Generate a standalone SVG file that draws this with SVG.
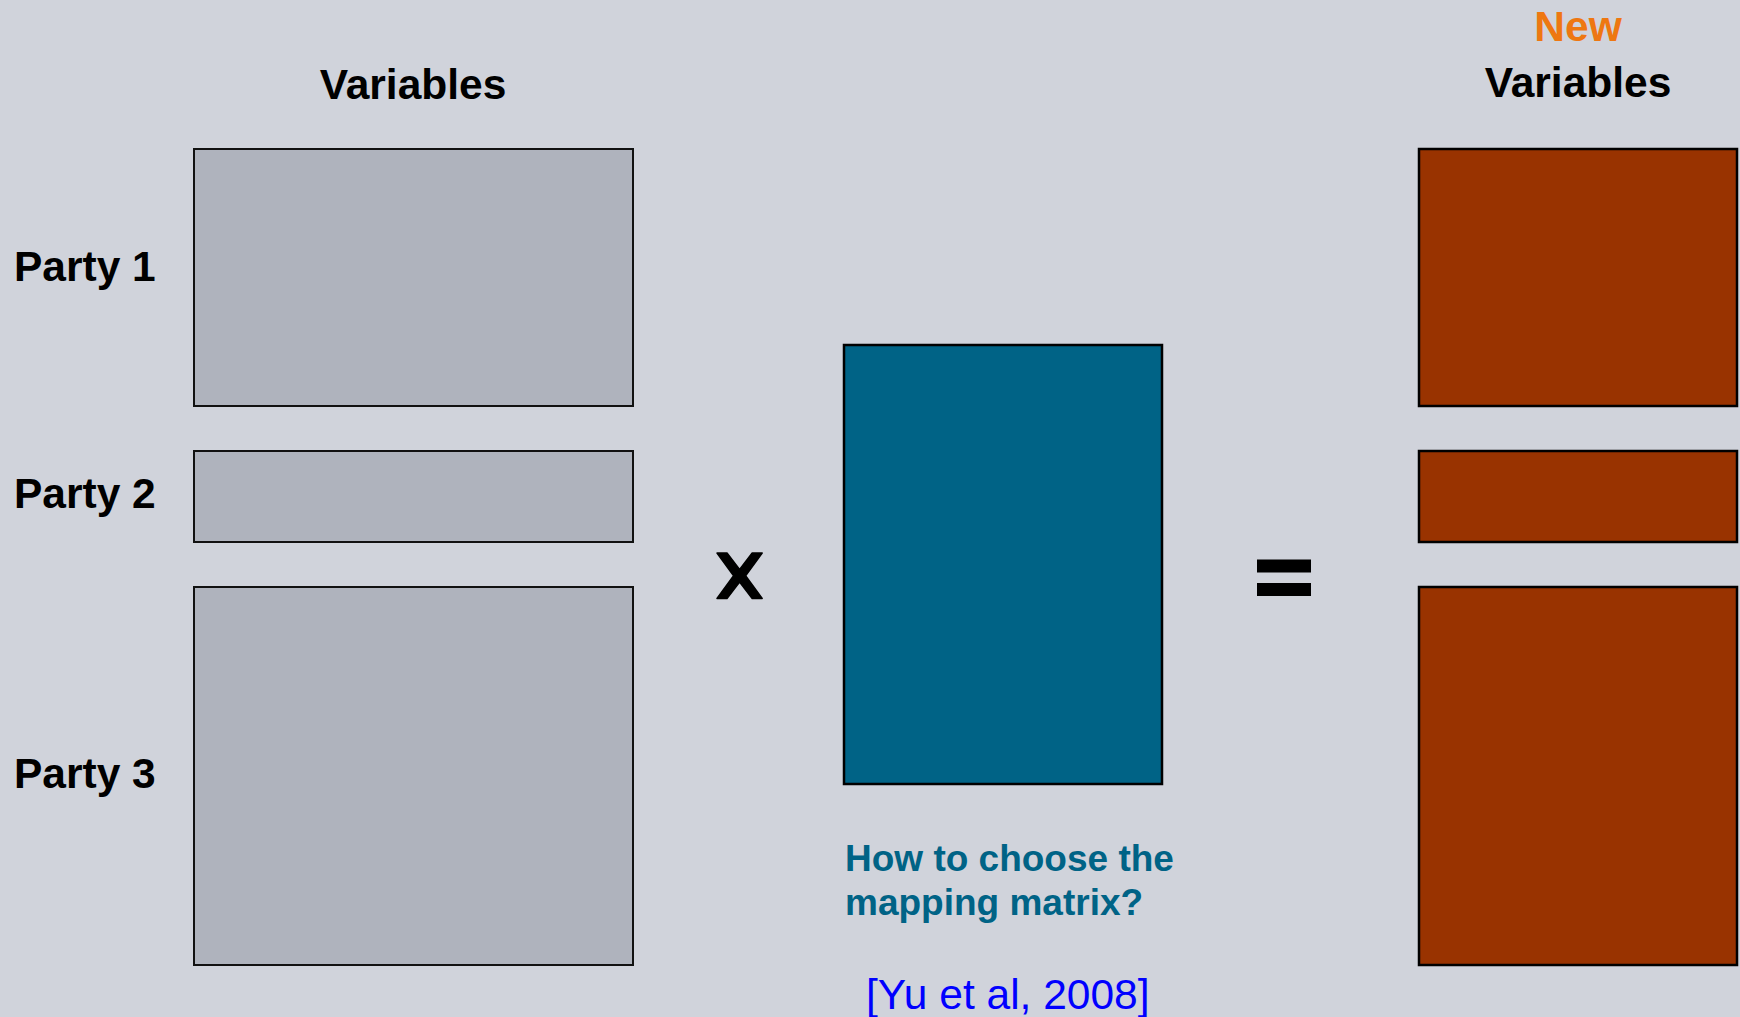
<svg xmlns="http://www.w3.org/2000/svg" width="1740" height="1017" viewBox="0 0 1740 1017">
<style>
  .bg { fill: #D0D3DB; }
  .party { fill: #AFB3BD; stroke: #111; stroke-width: 2; }
  .newv { fill: #993300; stroke: #000; stroke-width: 2.5; }
  .map { fill: #006386; stroke: #000; stroke-width: 2.5; }
  .lbl { font-family: "Liberation Sans", Arial, sans-serif; font-weight: bold; font-size: 42.5px; fill: #000; }
  .q { font-family: "Liberation Sans", Arial, sans-serif; font-weight: bold; font-size: 37px; fill: #006386; }
  .ref { font-family: "Liberation Sans", Arial, sans-serif; font-size: 42.5px; fill: #0000FF; }
  .op { fill: #000; stroke: #000; stroke-width: 1.5; stroke-linejoin: round; }
</style>
<rect class="bg" x="0" y="0" width="1740" height="1017"/>

<g id="header-variables">
  <text class="lbl" x="413" y="99" text-anchor="middle">Variables</text>
</g>
<g id="header-new-variables">
  <text class="lbl" x="1578" y="41" text-anchor="middle" style="fill:#EE7711">New</text>
  <text class="lbl" x="1578" y="97" text-anchor="middle">Variables</text>
</g>

<g id="party1">
  <text class="lbl" x="14" y="281">Party 1</text>
  <rect class="party" x="194" y="149" width="439" height="257"/>
</g>
<g id="party2">
  <text class="lbl" x="14" y="508">Party 2</text>
  <rect class="party" x="194" y="451" width="439" height="91"/>
</g>
<g id="party3">
  <text class="lbl" x="14" y="788">Party 3</text>
  <rect class="party" x="194" y="587" width="439" height="378"/>
</g>

<g id="times">
  <polygon class="op" points="717,553 727,553 739.6,569.5 752.2,553 762.2,553 745.6,575.7 762.2,598.5 752.2,598.5 739.6,582 727,598.5 717,598.5 733.6,575.7"/>
</g>

<g id="mapping-matrix">
  <rect class="map" x="844" y="345" width="318" height="439"/>
  <text class="q" x="845" y="871">How to choose the</text>
  <text class="q" x="845" y="915">mapping matrix?</text>
</g>

<g id="citation">
  <text class="ref" x="866" y="1009">[Yu et al, 2008]</text>
</g>

<g id="equals">
  <rect x="1257" y="559.5" width="54" height="13" fill="#000"/>
  <rect x="1257" y="583" width="54" height="13" fill="#000"/>
</g>

<g id="new1">
  <rect class="newv" x="1419" y="149" width="318" height="257"/>
</g>
<g id="new2">
  <rect class="newv" x="1419" y="451" width="318" height="91"/>
</g>
<g id="new3">
  <rect class="newv" x="1419" y="587" width="318" height="378"/>
</g>

<g id="connectors"></g>
</svg>
